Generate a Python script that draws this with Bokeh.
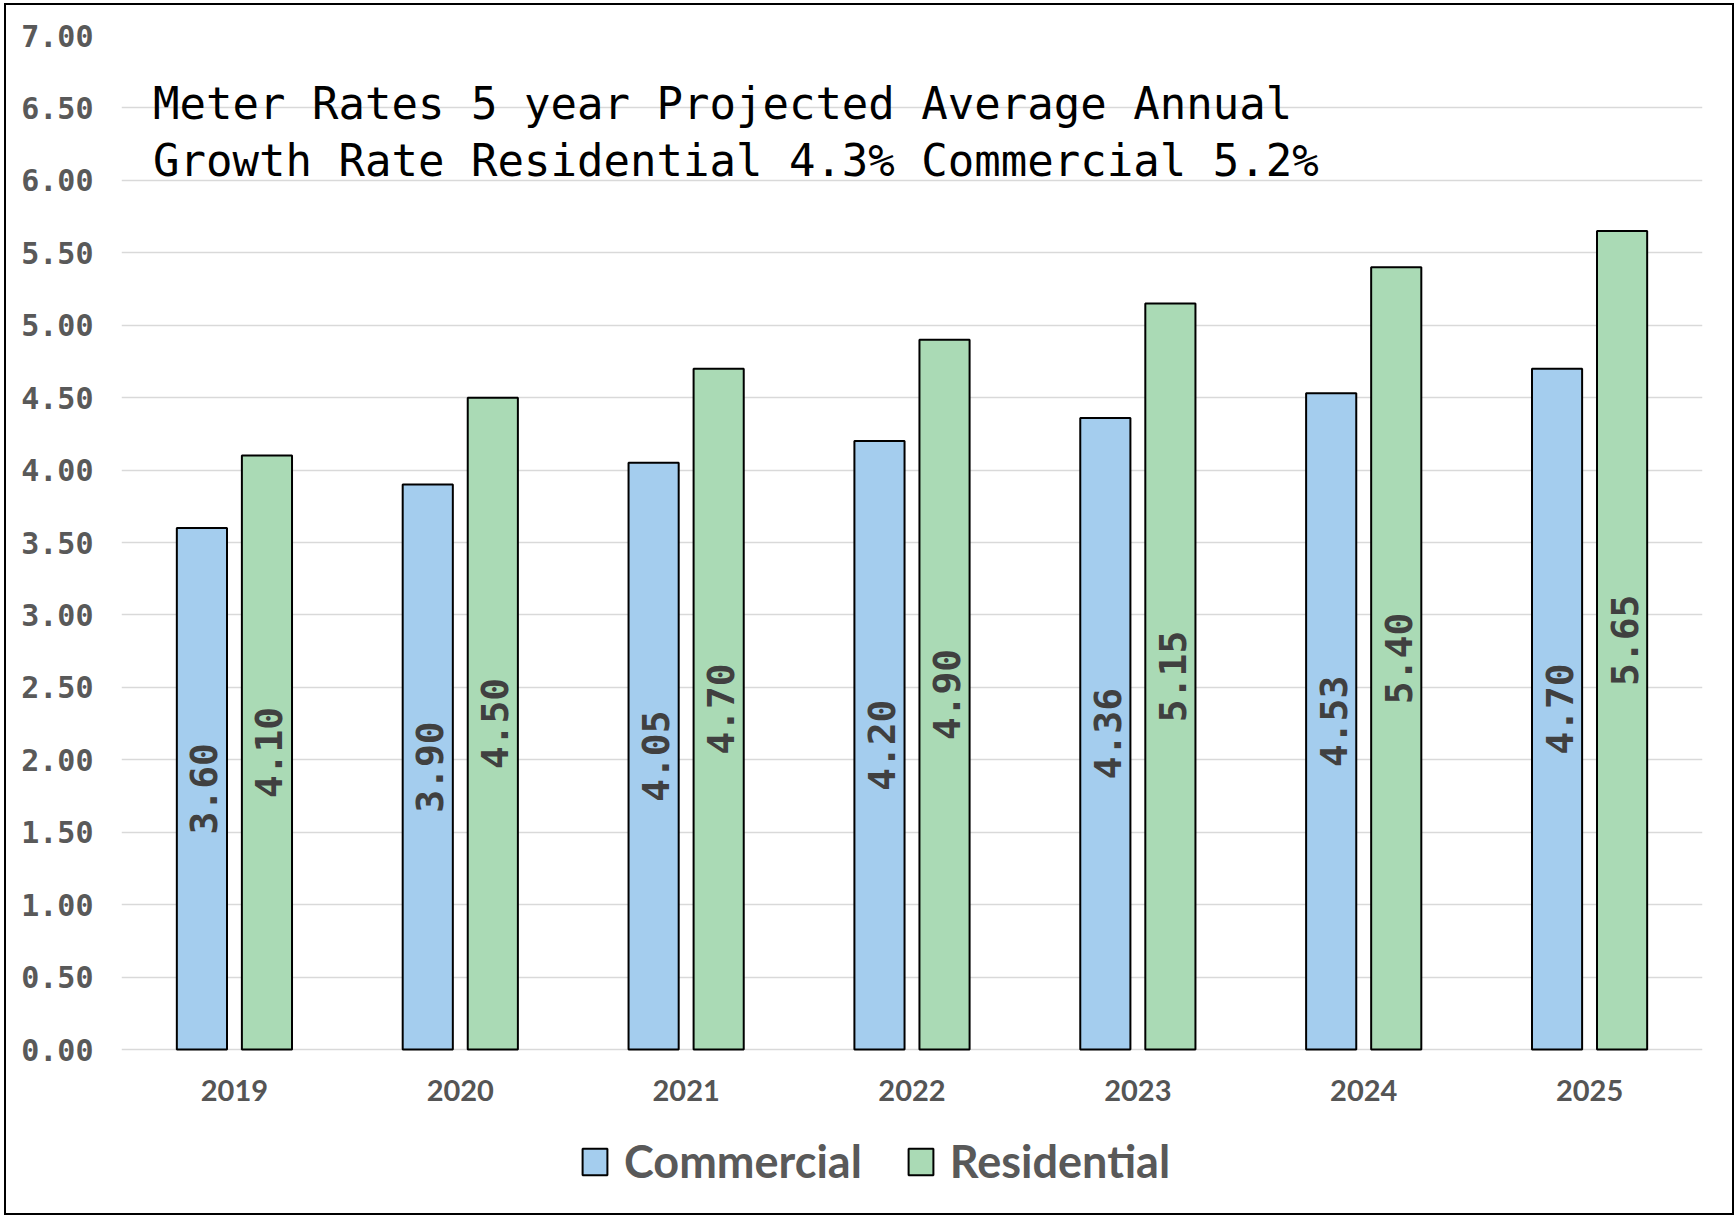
import math
from bokeh.plotting import figure
from bokeh.models import (ColumnDataSource, FactorRange, Range1d, Legend, LegendItem,
                          NumeralTickFormatter, FixedTicker, Label)
from bokeh.transform import dodge
from bokeh.core.properties import value
from bokeh.embed import file_html
from bokeh.resources import INLINE

years = ["2019", "2020", "2021", "2022", "2023", "2024", "2025"]
commercial = [3.60, 3.90, 4.05, 4.20, 4.36, 4.53, 4.70]
residential = [4.10, 4.50, 4.70, 4.90, 5.15, 5.40, 5.65]
y_ticks = [0.0, 0.5, 1.0, 1.5, 2.0, 2.5, 3.0, 3.5, 4.0, 4.5, 5.0, 5.5, 6.0, 6.5, 7.0]
title_lines = ["Meter Rates 5 year Projected Average Annual",
               "Growth Rate Residential 4.3% Commercial 5.2%"]
series_names = ["Commercial", "Residential"]

BLUE = "#A4CDEE"
GREEN = "#AADAB5"
MONO = "DejaVu Sans Mono"

# layout (figure pixels)
FIG_W, FIG_H = 1730, 1212
FRAME_TOP, ZERO_Y, FRAME_BOTTOM = 30, 1044, 1190
PX_PER_UNIT = (ZERO_Y - FRAME_TOP) / y_ticks[-1]
y_start = -(FRAME_BOTTOM - ZERO_Y) / PX_PER_UNIT

src = ColumnDataSource(dict(
    years=years,
    com=commercial,
    res=residential,
    com_mid=[v / 2 for v in commercial],
    res_mid=[v / 2 for v in residential],
    com_lbl=["%.2f" % v for v in commercial],
    res_lbl=["%.2f" % v for v in residential],
))

p = figure(x_range=FactorRange(*years), y_range=Range1d(y_start, y_ticks[-1]),
           width=FIG_W, height=FIG_H, output_backend="svg", toolbar_location=None,
           min_border_left=115, min_border_right=34, min_border_top=FRAME_TOP,
           min_border_bottom=FIG_H - FRAME_BOTTOM)
p.x_range.range_padding = 0
p.outline_line_color = None
p.background_fill_color = "white"
p.border_fill_color = "white"
p.styles = {"border": "2px solid black", "box-sizing": "border-box",
            "margin": "3px 0px 0px 4px"}

OFF = 0.144
W = 0.222
r1 = p.vbar(x=dodge("years", -OFF, range=p.x_range), top="com", width=W, source=src,
            fill_color=BLUE, line_color="black", line_width=2)
r2 = p.vbar(x=dodge("years", OFF, range=p.x_range), top="res", width=W, source=src,
            fill_color=GREEN, line_color="black", line_width=2)

for xcol, ycol, tcol in [(-OFF, "com_mid", "com_lbl"), (OFF, "res_mid", "res_lbl")]:
    p.text(x=dodge("years", xcol, range=p.x_range), y=ycol, text=tcol, source=src,
           angle=math.pi / 2, text_align="center", text_baseline="middle",
           text_font=value(MONO), text_font_style="bold", text_font_size="38px",
           text_color="#404040", x_offset=2)

for txt, yv in zip(title_lines, [6.53, 6.14]):
    p.add_layout(Label(x=0.14, y=yv, text=txt, text_font=MONO, text_font_size="44px",
                       text_color="black", text_baseline="alphabetic", text_align="left"))

# axes
p.yaxis.ticker = FixedTicker(ticks=y_ticks)
p.yaxis.formatter = NumeralTickFormatter(format="0.00")
p.yaxis.axis_line_color = None
p.yaxis.major_tick_line_color = None
p.yaxis.minor_tick_line_color = None
p.yaxis.major_label_text_font = MONO
p.yaxis.major_label_text_font_style = "bold"
p.yaxis.major_label_text_font_size = "30px"
p.yaxis.major_label_text_color = "#595959"
p.yaxis.major_label_standoff = 22

p.xaxis.fixed_location = 0
p.xaxis.axis_line_color = None
p.xaxis.major_tick_line_color = None
p.xaxis.minor_tick_line_color = None
p.xaxis.major_label_text_font = "Lato"
p.xaxis.major_label_text_font_style = "bold"
p.xaxis.major_label_text_font_size = "29px"
p.xaxis.major_label_text_color = "#555555"
p.xaxis.major_label_standoff = 24

p.xgrid.grid_line_color = None
p.ygrid.grid_line_color = "#D9D9D9"
p.ygrid.grid_line_width = 1.5

legend = Legend(items=[LegendItem(label=series_names[0], renderers=[r1]),
                       LegendItem(label=series_names[1], renderers=[r2])],
                orientation="horizontal", location=(458, 7),
                label_text_font="Lato", label_text_font_style="bold",
                label_text_font_size="45px", label_text_color="#595959",
                glyph_width=31, glyph_height=33, label_standoff=14, spacing=43,
                border_line_color=None, background_fill_alpha=0,
                padding=6, margin=0)
p.add_layout(legend, "center")

open("out.html", "w").write(file_html(p, INLINE))
